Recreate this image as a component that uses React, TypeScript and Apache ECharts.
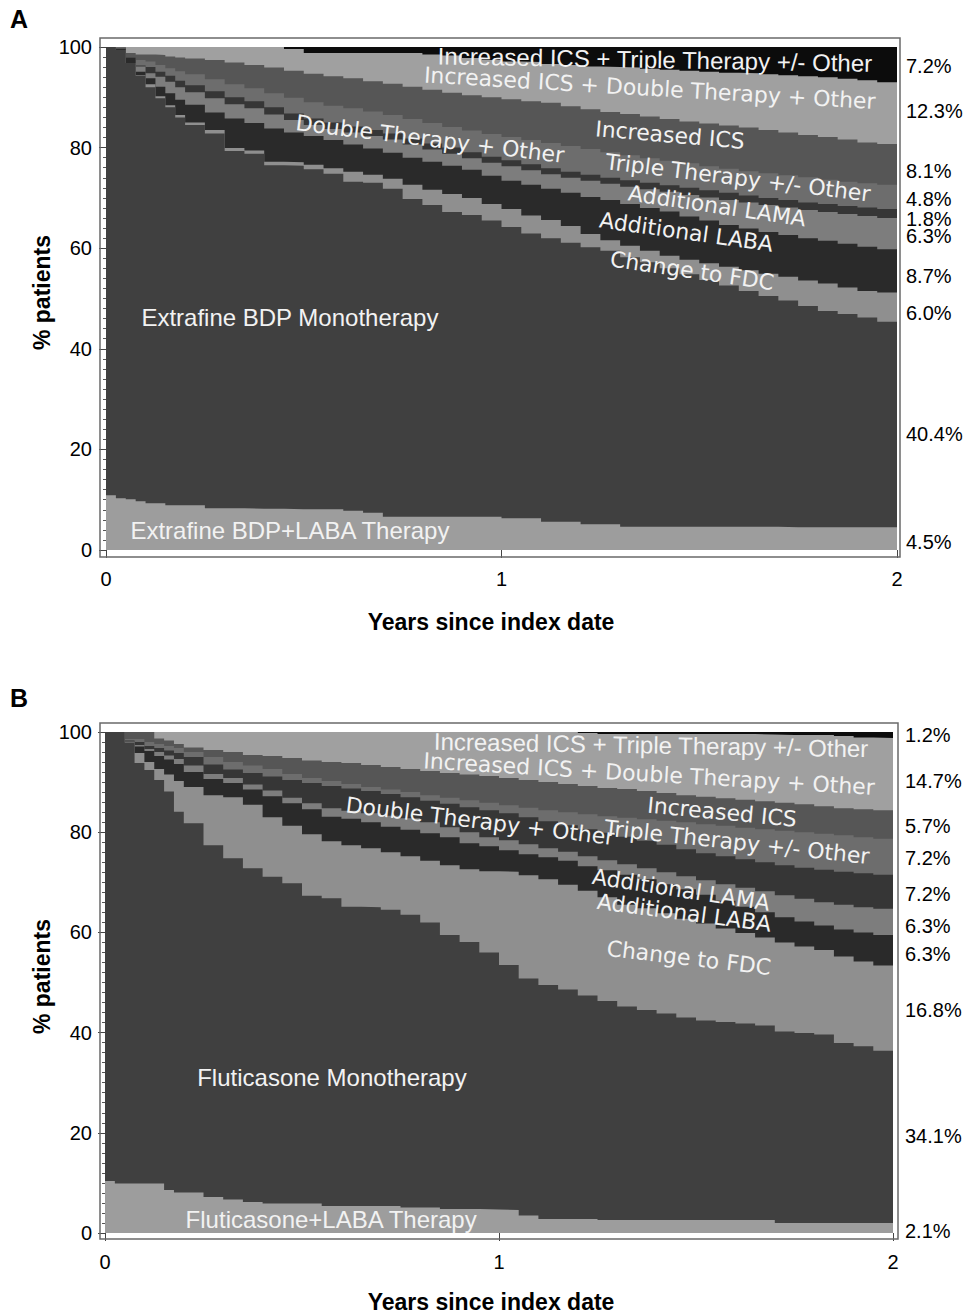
import { useEffect, useRef } from 'react';
import * as echarts from 'echarts';

// Years since index date (sampling points of the step curves)
const T = [0, 0.025, 0.05, 0.075, 0.1, 0.125, 0.15, 0.175, 0.2, 0.25, 0.3, 0.35, 0.4, 0.45, 0.5, 0.55, 0.6, 0.65, 0.7, 0.75, 0.8, 0.85, 0.9, 0.95, 1.0, 1.05, 1.1, 1.15, 1.2, 1.25, 1.3, 1.35, 1.4, 1.45, 1.5, 1.55, 1.6, 1.65, 1.7, 1.75, 1.8, 1.85, 1.9, 1.95, 2.0];

// Panel A: upper edge (cumulative % patients) of each band, top band first
const A_ICS_TRIPLE = [100, 100, 100, 100, 100, 100, 100, 100, 100, 100, 100, 100, 100, 100, 100, 100, 100, 100, 100, 100, 100, 100, 100, 100, 100, 100, 100, 100, 100, 100, 100, 100, 100, 100, 100, 100, 100, 100, 100, 100, 100, 100, 100, 100, 100];
const A_ICS_DOUBLE = [100, 100, 100, 100, 100, 100, 100, 100, 100, 100, 100, 100, 100, 99.6, 98.8, 98.8, 98.8, 98.8, 98.8, 98.8, 98.5, 98.3, 97.8, 97.4, 97.1, 97.0, 96.6, 96.4, 96.1, 96.0, 95.9, 95.7, 95.5, 95.3, 95.1, 94.9, 94.8, 94.6, 94.4, 94.2, 94.0, 93.7, 93.4, 93.0, 92.8];
const A_ICS = [100, 100, 98.8, 98.5, 98.5, 98.4, 98.1, 97.9, 97.7, 97.4, 96.9, 96.4, 95.9, 95.3, 94.7, 94.2, 93.8, 93.2, 92.7, 92.1, 91.5, 90.9, 90.4, 90.0, 89.6, 89.2, 88.9, 88.2, 87.6, 87.1, 86.7, 86.2, 85.7, 85.2, 84.8, 84.4, 84.0, 83.5, 83.0, 82.5, 82.1, 81.6, 81.0, 80.7, 80.5];
const A_TRIPLE = [100, 99.9, 98.0, 97.4, 97.1, 96.4, 95.8, 95.2, 94.6, 93.6, 92.6, 91.8, 90.8, 89.9, 89.0, 88.3, 87.8, 87.2, 86.5, 85.7, 84.9, 84.1, 83.4, 82.7, 82.1, 81.5, 80.9, 80.3, 79.7, 79.1, 78.5, 77.9, 77.4, 76.9, 76.3, 75.8, 75.3, 74.9, 74.5, 74.1, 73.6, 73.2, 72.9, 72.6, 72.4];
const A_DOUBLE = [100, 99.8, 97.9, 96.3, 96.0, 95.1, 94.3, 93.3, 92.4, 91.2, 90.0, 89.2, 88.0, 86.8, 85.8, 85.0, 84.2, 83.5, 82.8, 81.8, 80.8, 80.0, 79.1, 78.2, 77.5, 76.7, 75.9, 75.2, 74.6, 74.0, 73.5, 73.0, 72.5, 72.0, 71.5, 71.0, 70.5, 70.0, 69.6, 69.1, 68.8, 68.4, 68.1, 67.8, 67.6];
const A_LAMA = [100, 99.8, 97.9, 96.1, 94.8, 94.1, 93.1, 92.0, 91.0, 89.8, 88.6, 87.8, 86.6, 85.5, 84.5, 83.7, 83.0, 82.3, 81.6, 80.6, 79.6, 78.8, 77.9, 77.0, 76.3, 75.5, 74.7, 74.0, 73.4, 72.8, 72.2, 71.7, 71.2, 70.6, 70.1, 69.6, 69.1, 68.6, 68.1, 67.6, 67.2, 66.8, 66.4, 66.0, 65.8];
const A_LABA = [100, 99.7, 97.9, 95.1, 93.8, 92.1, 90.8, 89.5, 88.5, 87.0, 85.8, 84.9, 83.8, 83.0, 82.3, 81.5, 80.6, 79.8, 79.0, 78.0, 77.2, 76.4, 75.6, 74.4, 73.4, 72.6, 71.8, 71.0, 70.2, 69.6, 68.8, 68.0, 67.3, 66.3, 65.5, 64.6, 63.9, 63.2, 62.6, 62.0, 61.5, 60.9, 60.3, 59.8, 59.5];
const A_FDC = [100, 99.4, 96.8, 94.4, 92.6, 90.2, 88.4, 86.5, 85.0, 83.5, 79.9, 79.4, 77.2, 77.1, 76.6, 75.9, 75.2, 74.6, 73.8, 72.6, 71.6, 70.8, 70.0, 68.8, 67.8, 66.5, 65.6, 64.4, 62.8, 61.6, 60.5, 59.5, 58.5, 57.7, 57.0, 56.3, 55.6, 54.9, 54.3, 53.6, 53.0, 52.2, 51.5, 51.2, 50.9];
const A_MONO = [100, 99.4, 96.8, 94.3, 92.0, 89.8, 88.0, 86.0, 84.5, 82.8, 79.3, 78.8, 76.5, 76.4, 75.7, 74.8, 73.2, 73.0, 71.8, 69.8, 68.6, 67.2, 66.6, 65.5, 64.2, 62.9, 62.0, 61.1, 60.2, 59.5, 58.2, 57.2, 56.0, 54.8, 53.7, 52.6, 51.5, 50.5, 49.6, 48.5, 47.5, 46.9, 46.2, 45.4, 44.9];
const A_COMBO = [10.9, 10.3, 10.1, 9.7, 9.3, 9.3, 8.9, 8.9, 8.9, 8.3, 8.3, 8.2, 8.2, 8.1, 8.1, 8.1, 7.8, 7.4, 6.6, 6.6, 6.6, 6.6, 6.6, 6.6, 6.3, 6.3, 5.6, 5.6, 5.1, 5.1, 4.6, 4.6, 4.6, 4.6, 4.6, 4.6, 4.6, 4.6, 4.5, 4.5, 4.5, 4.5, 4.5, 4.5, 4.5];

// Panel B: upper edge (cumulative % patients) of each band, top band first
const B_ICS_TRIPLE = [100, 100, 100, 100, 100, 100, 100, 100, 100, 100, 100, 100, 100, 100, 100, 100, 100, 100, 100, 100, 100, 100, 100, 100, 100, 100, 100, 100, 100, 100, 100, 100, 100, 100, 100, 100, 100, 100, 100, 100, 100, 100, 100, 100, 100];
const B_ICS_DOUBLE = [100, 100, 100, 100, 100, 100, 100, 100, 100, 100, 100, 100, 100, 100, 100, 100, 100, 100, 100, 100, 100, 100, 100, 100, 100, 100, 100, 100, 99.8, 99.6, 99.6, 99.6, 99.6, 99.6, 99.6, 99.6, 99.6, 99.5, 99.4, 99.4, 99.4, 99.2, 98.9, 98.8, 98.8];
const B_ICS = [100, 100, 100, 100, 100, 98.7, 98.3, 97.6, 96.9, 96.4, 96.0, 95.4, 95.2, 94.8, 94.3, 94.0, 93.8, 93.4, 93.0, 92.6, 92.2, 91.8, 91.5, 91.2, 90.8, 90.4, 90.0, 89.6, 89.2, 88.8, 88.6, 88.2, 87.8, 87.4, 87.1, 86.8, 86.5, 86.2, 85.9, 85.6, 85.2, 84.8, 84.6, 84.4, 84.3];
const B_TRIPLE = [100, 100, 98.6, 98.6, 98.0, 97.6, 97.2, 96.8, 96.0, 95.0, 94.0, 93.3, 92.6, 91.6, 90.8, 90.2, 89.6, 89.0, 88.5, 88.0, 87.4, 86.9, 86.4, 85.9, 85.4, 84.9, 84.4, 84.0, 83.6, 83.2, 82.9, 82.6, 82.3, 82.0, 81.6, 81.3, 80.9, 80.6, 80.3, 80.0, 79.7, 79.4, 79.0, 78.7, 78.5];
const B_DOUBLE = [100, 100, 98.3, 98.0, 97.2, 96.8, 96.3, 95.8, 95.0, 93.5, 92.5, 91.8, 91.1, 90.4, 89.8, 89.2, 88.7, 88.2, 87.6, 87.0, 86.3, 85.7, 85.0, 84.4, 83.8, 83.0, 82.2, 81.4, 80.6, 79.9, 79.1, 78.3, 77.5, 76.6, 75.8, 75.2, 74.6, 74.0, 73.4, 72.9, 72.5, 72.1, 71.8, 71.5, 71.3];
const B_LAMA = [100, 100, 98.2, 97.4, 96.6, 96.0, 95.3, 94.6, 93.3, 91.6, 90.8, 89.5, 88.3, 86.9, 85.8, 84.8, 84.3, 83.8, 83.3, 82.8, 82.0, 81.0, 80.0, 79.0, 78.4, 77.6, 76.8, 76.1, 75.2, 74.4, 73.6, 72.8, 72.0, 71.2, 70.4, 69.6, 68.9, 68.2, 67.4, 66.7, 66.0, 65.5, 65.0, 64.7, 64.5];
const B_LABA = [100, 100, 98.1, 97.1, 96.2, 95.2, 94.5, 93.6, 92.0, 90.6, 89.8, 88.5, 87.2, 85.8, 84.6, 83.1, 82.7, 82.0, 81.1, 80.5, 79.8, 79.0, 77.8, 77.2, 76.4, 75.6, 75.0, 74.3, 73.2, 72.4, 71.5, 70.6, 69.6, 68.6, 67.5, 66.3, 65.1, 64.0, 63.0, 62.2, 61.4, 60.6, 60.0, 59.5, 59.3];
const B_FDC = [100, 100, 98.0, 95.8, 94.0, 92.6, 91.5, 90.2, 89.0, 87.4, 87.0, 85.5, 83.0, 81.3, 79.6, 78.2, 77.4, 76.8, 76.0, 75.2, 74.3, 73.4, 72.6, 72.2, 72.1, 71.4, 70.6, 69.5, 68.3, 67.0, 65.5, 64.8, 63.8, 62.7, 61.8, 60.8, 59.9, 59.0, 58.0, 57.2, 56.5, 55.2, 54.2, 53.4, 53.0];
const B_MONO = [100, 100, 97.9, 93.8, 92.4, 90.4, 88.1, 84.1, 81.8, 77.4, 74.8, 72.8, 71.1, 69.8, 67.3, 66.8, 65.1, 65.0, 64.5, 63.5, 62.0, 59.5, 58.1, 56.0, 53.5, 50.8, 49.5, 48.6, 47.4, 46.3, 45.2, 44.5, 43.8, 43.0, 42.4, 42.1, 41.8, 41.4, 40.2, 39.9, 39.6, 37.9, 37.3, 36.4, 36.2];
const B_COMBO = [10.4, 9.9, 9.9, 9.9, 9.9, 9.9, 8.6, 8.1, 8.1, 7.2, 6.7, 6.2, 5.9, 5.9, 5.9, 5.4, 5.4, 5.4, 5.4, 5.1, 5.1, 4.8, 4.8, 4.7, 4.6, 3.5, 2.8, 2.8, 2.8, 2.6, 2.6, 2.6, 2.6, 2.6, 2.6, 2.6, 2.6, 2.6, 2.0, 2.0, 2.0, 2.0, 2.0, 2.0, 2.0];

const NAMES_A = ['Increased ICS + Triple Therapy +/- Other', 'Increased ICS + Double Therapy + Other', 'Increased ICS', 'Triple Therapy +/- Other', 'Double Therapy + Other', 'Additional LAMA', 'Additional LABA', 'Change to FDC', 'Extrafine BDP Monotherapy', 'Extrafine BDP+LABA Therapy'];
const NAMES_B = ['Increased ICS + Triple Therapy +/- Other', 'Increased ICS + Double Therapy + Other', 'Increased ICS', 'Triple Therapy +/- Other', 'Double Therapy + Other', 'Additional LAMA', 'Additional LABA', 'Change to FDC', 'Fluticasone Monotherapy', 'Fluticasone+LABA Therapy'];

// Final shares printed on the right
const END_A = ['7.2%', '12.3%', '8.1%', '4.8%', '1.8%', '6.3%', '8.7%', '6.0%', '40.4%', '4.5%'];
const END_B = ['1.2%', '14.7%', '5.7%', '7.2%', '7.2%', '6.3%', '6.3%', '16.8%', '34.1%', '2.1%'];

const X_TICKS = [0, 1, 2];
const Y_TICKS = [0, 20, 40, 60, 80, 100];

// ---- styles / layout (not data) ----
const BAND_COLORS = ['#0c0c0c', '#a0a0a0', '#565656', '#6d6d6d', '#363636', '#7d7d7d', '#2a2a2a', '#8f8f8f', '#404040', '#9d9d9d'];
const END_AT_A = [96.2, 87.2, 75.4, 69.7, 65.9, 62.5, 54.5, 47.2, 23.1, 1.5];
const END_AT_B = [99.5, 90.2, 81.3, 74.9, 67.6, 61.3, 55.7, 44.5, 19.4, 0.4];
const DV = '22px "DejaVu Sans"';
const LS = '24px "Liberation Sans"';
const IN_LABELS_A = [
  { i: 0, t: 1.388, v: 97.5, rot: -1, font: LS },
  { i: 1, t: 1.375, v: 91.8, rot: -3.4, font: DV },
  { i: 2, t: 1.426, v: 82.5, rot: -4.9, font: DV },
  { i: 4, t: 0.819, v: 81.7, rot: -7, font: DV },
  { i: 3, t: 1.598, v: 74.0, rot: -7, font: DV },
  { i: 5, t: 1.545, v: 68.4, rot: -8.4, font: DV },
  { i: 6, t: 1.467, v: 63.2, rot: -8, font: DV },
  { i: 7, t: 1.482, v: 55.5, rot: -8.4, font: DV },
  { i: 8, t: 0.465, v: 46.3, rot: 0, font: LS },
  { i: 9, t: 0.465, v: 3.8, rot: 0, font: LS },
];
const IN_LABELS_B = [
  { i: 0, t: 1.386, v: 97.4, rot: -1, font: LS },
  { i: 1, t: 1.381, v: 91.6, rot: -3.4, font: DV },
  { i: 2, t: 1.566, v: 84.0, rot: -5.5, font: DV },
  { i: 4, t: 0.952, v: 82.2, rot: -7, font: DV },
  { i: 3, t: 1.604, v: 78.0, rot: -6.2, font: DV },
  { i: 5, t: 1.462, v: 68.5, rot: -8.6, font: DV },
  { i: 6, t: 1.47, v: 63.9, rot: -7.5, font: DV },
  { i: 7, t: 1.482, v: 54.9, rot: -6.8, font: DV },
  { i: 8, t: 0.576, v: 31.1, rot: 0, font: LS },
  { i: 9, t: 0.574, v: 2.6, rot: 0, font: LS },
];

const EDGES_A = [A_ICS_TRIPLE, A_ICS_DOUBLE, A_ICS, A_TRIPLE, A_DOUBLE, A_LAMA, A_LABA, A_FDC, A_MONO, A_COMBO];
const EDGES_B = [B_ICS_TRIPLE, B_ICS_DOUBLE, B_ICS, B_TRIPLE, B_DOUBLE, B_LAMA, B_LABA, B_FDC, B_MONO, B_COMBO];

function bandSeries(g: number, edges: number[][], names: string[]) {
  // each band drawn as area from 0 up to its upper edge; later (lower) bands cover earlier ones
  return edges.map((e, k) => ({
    name: names[k],
    type: 'line',
    xAxisIndex: g,
    yAxisIndex: g,
    step: 'end',
    symbol: 'none',
    showSymbol: false,
    silent: true,
    lineStyle: { width: 0, opacity: 0 },
    areaStyle: { color: BAND_COLORS[k], opacity: 1, origin: 'start' },
    data: T.map((t, i) => [t, e[i]]),
  }));
}

function xAxisCfg(g: number, offset: number, margin: number) {
  return {
    gridIndex: g,
    type: 'value',
    min: X_TICKS[0],
    max: X_TICKS[X_TICKS.length - 1],
    interval: X_TICKS[1] - X_TICKS[0],
    offset,
    axisLine: { show: false },
    axisTick: { show: true, length: 8, lineStyle: { color: '#444', width: 1 } },
    axisLabel: { fontSize: 20, color: '#000', fontFamily: 'Liberation Sans', margin },
    splitLine: { show: false },
  };
}

function yAxisCfg(g: number, offset: number) {
  return {
    gridIndex: g,
    type: 'value',
    min: Y_TICKS[0],
    max: Y_TICKS[Y_TICKS.length - 1],
    interval: Y_TICKS[1] - Y_TICKS[0],
    offset,
    axisLine: { show: false },
    axisTick: { show: true, length: 7, lineStyle: { color: '#444', width: 1 } },
    minorTick: { show: true, splitNumber: 10, length: 3, lineStyle: { color: '#555', width: 1 } },
    axisLabel: { fontSize: 20, color: '#000', fontFamily: 'Liberation Sans', margin: 8 },
    splitLine: { show: false },
    minorSplitLine: { show: false },
  };
}

export default function App() {
  const ref = useRef<HTMLDivElement>(null);
  useEffect(() => {
    document.body.style.margin = '0';
    document.body.style.overflow = 'hidden';
    const chart = echarts.init(ref.current as HTMLDivElement, null, { renderer: 'svg' });
    chart.setOption({
      animation: false,
      backgroundColor: '#fff',
      grid: [
        { left: 106, top: 47, width: 791, height: 503 },
        { left: 105, top: 732, width: 788, height: 501 },
      ],
      xAxis: [xAxisCfg(0, 7, 12), xAxisCfg(1, 6, 13)],
      yAxis: [yAxisCfg(0, 6), yAxisCfg(1, 5)],
      series: [...bandSeries(0, EDGES_A, NAMES_A), ...bandSeries(1, EDGES_B, NAMES_B)],
    });

    const px = (g: number, t: number, v: number) => chart.convertToPixel({ gridIndex: g } as any, [t, v]) as number[];
    const graphics: any[] = [];
    const panels = [
      { g: 0, names: NAMES_A, ends: END_A, endAt: END_AT_A, labels: IN_LABELS_A, pad: [6, 9, 3, 7], endDx: 9, letter: 'A', titleDy: 72 },
      { g: 1, names: NAMES_B, ends: END_B, endAt: END_AT_B, labels: IN_LABELS_B, pad: [5, 9, 5, 6], endDx: 12, letter: 'B', titleDy: 69 },
    ];
    panels.forEach((p) => {
      const tl = px(p.g, 0, 100);
      const br = px(p.g, 2, 0);
      // frame
      graphics.push({
        type: 'rect',
        z: 100,
        shape: { x: tl[0] - p.pad[0], y: tl[1] - p.pad[1], width: br[0] - tl[0] + p.pad[0] + p.pad[2], height: br[1] - tl[1] + p.pad[1] + p.pad[3] },
        style: { fill: 'none', stroke: '#6a6a6a', lineWidth: 1.5 },
        silent: true,
      });
      // in-plot band labels
      p.labels.forEach((l) => {
        const c = px(p.g, l.t, l.v);
        graphics.push({
          type: 'text',
          z: 101,
          x: c[0],
          y: c[1],
          rotation: (l.rot * Math.PI) / 180,
          silent: true,
          style: { text: p.names[l.i], fill: '#f2f2f2', font: l.font, textAlign: 'center', textVerticalAlign: 'middle' },
        });
      });
      // right-hand share labels
      p.ends.forEach((s, k) => {
        const c = px(p.g, 2, p.endAt[k]);
        graphics.push({
          type: 'text',
          z: 101,
          x: br[0] + p.endDx,
          y: c[1],
          silent: true,
          style: { text: s, fill: '#000', font: '20px "Liberation Sans"', textAlign: 'left', textVerticalAlign: 'middle' },
        });
      });
      // axis titles
      const midY = (tl[1] + br[1]) / 2;
      graphics.push({
        type: 'text', z: 101, x: 42, y: midY - 6, rotation: Math.PI / 2, silent: true,
        style: { text: '% patients', fill: '#000', font: 'bold 23px "Liberation Sans"', textAlign: 'center', textVerticalAlign: 'middle' },
      });
      graphics.push({
        type: 'text', z: 101, x: 491, y: br[1] + p.titleDy, silent: true,
        style: { text: 'Years since index date', fill: '#000', font: 'bold 23px "Liberation Sans"', textAlign: 'center', textVerticalAlign: 'middle' },
      });
      graphics.push({
        type: 'text', z: 101, x: 19, y: tl[1] - (p.g === 0 ? 28 : 34), silent: true,
        style: { text: p.letter, fill: '#000', font: 'bold 25px "Liberation Sans"', textAlign: 'center', textVerticalAlign: 'middle' },
      });
    });
    chart.setOption({ graphic: graphics });
    return () => chart.dispose();
  }, []);
  return <div ref={ref} style={{ width: 969, height: 1316 }} />;
}
